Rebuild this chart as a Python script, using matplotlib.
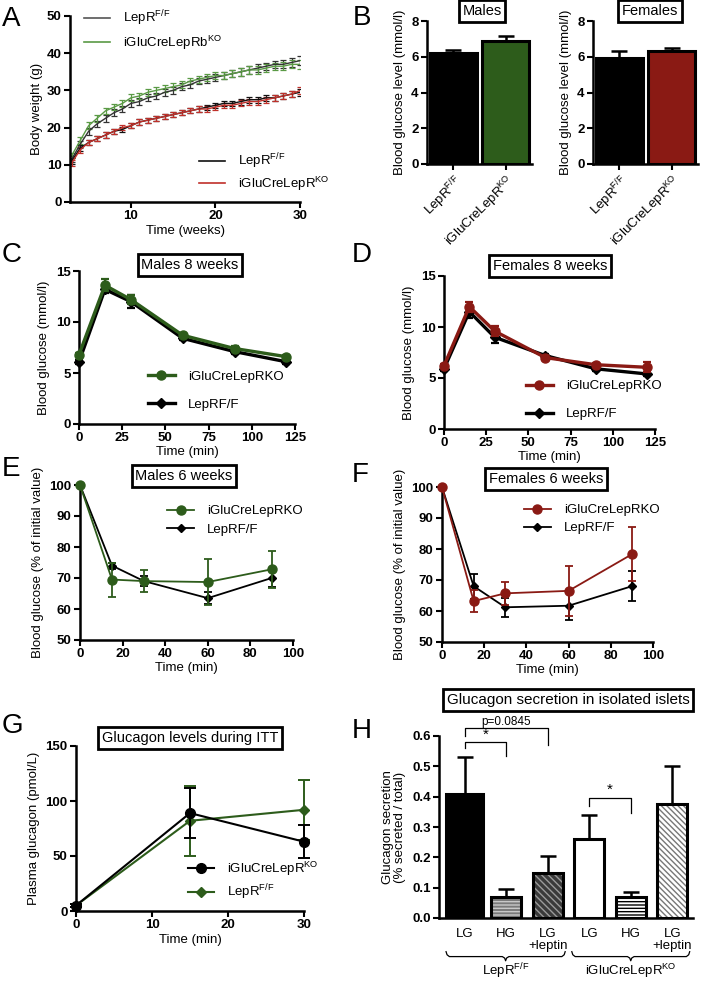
import numpy as np
import matplotlib.pyplot as plt
from matplotlib.lines import Line2D
from matplotlib.transforms import blended_transform_factory

plt.rcParams['font.family'] = ['Liberation Sans', 'DejaVu Sans']
plt.rcParams['mathtext.default'] = 'regular'
plt.rcParams['font.size'] = 9

# ---- data ----
weeks = [3, 4, 5, 6, 7, 8, 9, 10, 11, 12, 13, 14, 15, 16, 17, 18, 19, 20,
         21, 22, 23, 24, 25, 26, 27, 28, 29, 30]
bw_m_ff = [11.5, 15.5, 19.0, 21.0, 22.5, 24.0, 25.0, 26.5, 27.0, 28.0, 28.5, 29.5, 30.0, 31.0,
           31.5, 32.5, 33.0, 33.5, 34.0, 34.5, 35.0, 35.5, 36.0, 36.5, 37.0, 37.0, 37.5, 38.0]
bw_m_ko = [12.5, 16.5, 20.5, 22.5, 24.5, 25.5, 26.5, 28.0, 28.5, 29.5, 30.0, 30.5, 31.0, 31.5,
           32.5, 33.0, 33.5, 34.0, 34.0, 34.5, 35.0, 35.5, 35.5, 36.0, 36.5, 36.5, 37.0, 37.0]
bw_f_ff = [11.0, 14.5, 16.0, 17.0, 18.0, 19.0, 19.5, 20.5, 21.5, 22.0, 22.5, 23.0, 23.5, 24.0,
           24.5, 25.0, 25.5, 26.0, 26.5, 26.5, 27.0, 27.5, 27.5, 28.0, 28.0, 28.5, 29.0, 29.5]
bw_f_ko = [10.5, 14.0, 16.0, 17.0, 18.0, 19.0, 20.0, 20.5, 21.5, 22.0, 22.5, 23.0, 23.5, 24.0,
           24.5, 25.0, 25.0, 25.5, 26.0, 26.0, 26.5, 27.0, 27.0, 27.5, 28.0, 28.5, 29.0, 30.0]
bw_err_m = [0.8, 0.9, 0.9, 0.9, 0.9, 0.9, 0.9, 0.9, 0.9, 0.9, 0.9, 0.9, 0.9, 0.9,
            0.9, 0.9, 0.9, 0.9, 0.9, 1.0, 1.0, 1.0, 1.0, 1.0, 1.0, 1.1, 1.1, 1.3]
bw_err_f = [0.7, 0.7, 0.7, 0.7, 0.7, 0.7, 0.7, 0.7, 0.7, 0.7, 0.7, 0.7, 0.7, 0.7,
            0.7, 0.7, 0.7, 0.7, 0.7, 0.7, 0.8, 0.8, 0.8, 0.8, 0.8, 0.8, 0.8, 0.9]

geno = ['LepR$^{F/F}$', 'iGluCreLepR$^{KO}$']
bg_males = [6.2, 6.9]
bg_males_err = [0.2, 0.25]
bg_females = [5.95, 6.3]
bg_females_err = [0.35, 0.2]

gtt_t = [0, 15, 30, 60, 90, 120]
gtt_m_ko = [6.8, 13.6, 12.2, 8.7, 7.4, 6.6]
gtt_m_ko_err = [0.2, 0.6, 0.4, 0.2, 0.2, 0.2]
gtt_m_ff = [6.1, 13.2, 12.0, 8.4, 7.1, 6.1]
gtt_m_ff_err = [0.2, 0.4, 0.6, 0.2, 0.2, 0.2]
gtt_f_ko = [6.2, 12.0, 9.6, 7.0, 6.3, 6.05]
gtt_f_ko_err = [0.2, 0.5, 0.5, 0.2, 0.2, 0.5]
gtt_f_ff = [5.9, 11.5, 9.0, 7.2, 5.9, 5.4]
gtt_f_ff_err = [0.2, 0.6, 0.6, 0.2, 0.2, 0.2]

itt_t = [0, 15, 30, 60, 90]
itt_m_ko = [100, 69.5, 69.0, 68.7, 72.8]
itt_m_ko_err = [0, 5.5, 3.5, 7.5, 6.0]
itt_m_ff = [100, 74.0, 69.0, 63.5, 70.0]
itt_m_ff_err = [0, 1.0, 1.5, 2.0, 3.0]
itt_f_ko = [100, 63.2, 65.7, 66.5, 78.3]
itt_f_ko_err = [0, 3.5, 3.8, 8.0, 8.7]
itt_f_ff = [100, 68.0, 61.2, 61.7, 68.0]
itt_f_ff_err = [0, 4.0, 3.0, 4.5, 4.8]

glc_t = [0, 15, 30]
glc_ko = [5, 89, 63]
glc_ko_err = [1, 23, 15]
glc_ff = [5, 82, 92]
glc_ff_err = [1, 32, 27]

sec_labels = ['LG', 'HG', 'LG\n+leptin', 'LG', 'HG', 'LG\n+leptin']
sec_vals = [0.41, 0.07, 0.15, 0.26, 0.07, 0.375]
sec_err = [0.12, 0.025, 0.055, 0.08, 0.015, 0.125]

GREEN = '#2d5c1b'
RED = '#8a1a14'
TICK_FS = 9.5

W, H = 705, 982
fig = plt.figure(figsize=(W / 100, H / 100), dpi=100)


def add_ax(l, t, r, b):
    return fig.add_axes([l / W, 1 - b / H, (r - l) / W, (b - t) / H])


def gp(ax, bold=True):
    for s in ['top', 'right']:
        ax.spines[s].set_visible(False)
    for s in ['left', 'bottom']:
        ax.spines[s].set_linewidth(1.8)
    ax.tick_params(width=1.5, length=4, labelsize=TICK_FS, pad=2)
    if bold:
        plt.setp(ax.get_xticklabels() + ax.get_yticklabels(), fontweight='bold')


def title_box(x, y, s, size=10):
    fig.text(x / W, 1 - y / H, s, ha='center', va='center', fontsize=size,
             bbox=dict(boxstyle='square,pad=0.25', fc='white', ec='black', lw=2))


def letter(x, y, s):
    fig.text(x / W, 1 - y / H, s, ha='left', va='top', fontsize=20)


def leg(ax, x, y, handles, labels, **kw):
    return ax.legend(handles, labels, loc='upper left', bbox_to_anchor=(x, y), frameon=False,
                     borderpad=0, borderaxespad=0, handlelength=2.0, handletextpad=1.0,
                     fontsize=9.5, **kw)


def mk(color, marker, ms, lw):
    return Line2D([], [], color=color, marker=marker, ms=ms, lw=lw)


# ---- A ----
ax = add_ax(70, 16, 300, 202)
ekw = dict(capsize=2.5, elinewidth=0.9, capthick=0.9, lw=1.0)
ax.errorbar(weeks, bw_m_ff, yerr=bw_err_m, color='#333333', **ekw)
ax.errorbar(weeks, bw_m_ko, yerr=bw_err_m, color='#5a9a45', **ekw)
ax.errorbar(weeks, bw_f_ff, yerr=bw_err_f, color='#111111', **ekw)
ax.errorbar(weeks, bw_f_ko, yerr=bw_err_f, color='#c0302a', **ekw)
ax.set_xlim(2.8, 30)
ax.set_ylim(0, 50)
ax.set_xticks([10, 20, 30])
ax.set_yticks([0, 10, 20, 30, 40, 50])
ax.set_xlabel('Time (weeks)', fontsize=9.5, labelpad=2)
ax.set_ylabel('Body weight (g)', fontsize=9.5, labelpad=3)
gp(ax)
l1 = leg(ax, 0.06, 1.04, [mk('#555555', None, 0, 1.2), mk('#5a9a45', None, 0, 1.2)],
         ['LepR$^{F/F}$', 'iGluCreLepRb$^{KO}$'], labelspacing=0.4)
ax.add_artist(l1)
leg(ax, 0.56, 0.27, [mk('#111111', None, 0, 1.2), mk('#c0302a', None, 0, 1.2)],
    ['LepR$^{F/F}$', 'iGluCreLepR$^{KO}$'], labelspacing=0.25)
letter(2, 6, 'A')

# ---- B ----
for (l, r), vals, errs, col, ttl, tx in [((427, 532), bg_males, bg_males_err, GREEN, 'Males', 482),
                                         ((593, 698), bg_females, bg_females_err, RED, 'Females', 650)]:
    ax = add_ax(l, 21, r, 164)
    x = np.arange(len(vals))
    ax.bar(x, vals, width=0.9, color=['black', col], edgecolor='black', linewidth=2.2, zorder=2)
    ax.errorbar(x, vals, yerr=[[0, 0], errs], fmt='none', ecolor='black', elinewidth=1.8,
                capsize=6, capthick=1.8, zorder=1)
    ax.set_xlim(-0.5, 1.5)
    ax.set_ylim(0, 8)
    ax.set_yticks([0, 2, 4, 6, 8])
    ax.set_xticks(x)
    ax.set_xticklabels(geno, rotation=45, ha='right', rotation_mode='anchor', fontsize=10)
    ax.set_ylabel('Blood glucose level (mmol/l)', fontsize=9.5, labelpad=4)
    gp(ax, bold=False)
    plt.setp(ax.get_yticklabels(), fontweight='bold')
    title_box(tx, 11, ttl, size=10.5)
letter(353, 5, 'B')

# ---- C & D ----
for (l, t, r, b), ko, koe, ff, ffe, col, ttl, tpos, lx, ly, let in [
        ((79, 271, 295, 424), gtt_m_ko, gtt_m_ko_err, gtt_m_ff, gtt_m_ff_err, GREEN,
         'Males 8 weeks', (190, 265), 0.32, 0.35, (2, 242, 'C')),
        ((444, 276, 655, 429), gtt_f_ko, gtt_f_ko_err, gtt_f_ff, gtt_f_ff_err, RED,
         'Females 8 weeks', (550, 266), 0.39, 0.32, (352, 242, 'D'))]:
    ax = add_ax(l, t, r, b)
    ax.errorbar(gtt_t, ko, yerr=koe, color=col, marker='o', ms=6.5, lw=2.4, elinewidth=1.6,
                capsize=3, capthick=1.6, clip_on=False, zorder=3)
    ax.errorbar(gtt_t, ff, yerr=ffe, color='black', marker='D', ms=5, lw=2.4, elinewidth=1.6,
                capsize=3, capthick=1.6, clip_on=False, zorder=2)
    ax.set_xlim(0, 125)
    ax.set_ylim(0, 15)
    ax.set_xticks([0, 25, 50, 75, 100, 125])
    ax.set_yticks([0, 5, 10, 15])
    ax.set_xlabel('Time (min)', fontsize=9.5, labelpad=1)
    ax.set_ylabel('Blood glucose (mmol/l)', fontsize=9.5, labelpad=4)
    gp(ax)
    leg(ax, lx, ly, [mk(col, 'o', 6.5, 2.4), mk('black', 'D', 5, 2.4)],
        ['iGluCreLepRKO', 'LepRF/F'], labelspacing=1.2)
    title_box(tpos[0], tpos[1], ttl, size=10.5)
    letter(*let)

# ---- E & F ----
for (l, t, r, b), ko, koe, ff, ffe, col, ttl, tpos, lx, ly, let in [
        ((80, 485, 293, 640), itt_m_ko, itt_m_ko_err, itt_m_ff, itt_m_ff_err, GREEN,
         'Males 6 weeks', (184, 476), 0.41, 0.87, (2, 456, 'E')),
        ((442, 487, 653, 642), itt_f_ko, itt_f_ko_err, itt_f_ff, itt_f_ff_err, RED,
         'Females 6 weeks', (546, 479), 0.39, 0.89, (352, 462, 'F'))]:
    ax = add_ax(l, t, r, b)
    ax.errorbar(itt_t, ko, yerr=koe, color=col, marker='o', ms=6.5, lw=1.3, elinewidth=1.3,
                capsize=3, capthick=1.3, clip_on=False, zorder=3)
    ax.errorbar(itt_t, ff, yerr=ffe, color='black', marker='D', ms=4.5, lw=1.3, elinewidth=1.3,
                capsize=3, capthick=1.3, clip_on=False, zorder=2)
    ax.set_xlim(0, 100)
    ax.set_ylim(50, 100)
    ax.set_xticks([0, 20, 40, 60, 80, 100])
    ax.set_yticks([50, 60, 70, 80, 90, 100])
    ax.set_xlabel('Time (min)', fontsize=9.5, labelpad=1)
    ax.set_ylabel('Blood glucose (% of initial value)', fontsize=9.5, labelpad=4)
    gp(ax)
    leg(ax, lx, ly, [mk(col, 'o', 6.5, 1.3), mk('black', 'D', 4.5, 1.3)],
        ['iGluCreLepRKO', 'LepRF/F'], labelspacing=0.45)
    title_box(tpos[0], tpos[1], ttl, size=10.5)
    letter(*let)

# ---- G ----
ax = add_ax(76, 746, 304, 911)
ax.errorbar(glc_t, glc_ko, yerr=glc_ko_err, color='black', marker='o', ms=7, lw=1.5,
            elinewidth=1.4, capsize=4, capthick=1.4, clip_on=False, zorder=3)
ax.errorbar(glc_t, glc_ff, yerr=glc_ff_err, color=GREEN, marker='D', ms=5, lw=1.5,
            elinewidth=1.4, capsize=4, capthick=1.4, clip_on=False, zorder=2)
ax.set_xlim(0, 30)
ax.set_ylim(0, 150)
ax.set_xticks([0, 10, 20, 30])
ax.set_yticks([0, 50, 100, 150])
ax.set_xlabel('Time (min)', fontsize=9.5, labelpad=2)
ax.set_ylabel('Plasma glucagon (pmol/L)', fontsize=9.5, labelpad=4)
gp(ax)
leg(ax, 0.49, 0.31, [mk('black', 'o', 7, 1.5), mk(GREEN, 'D', 5, 1.5)],
    ['iGluCreLepR$^{KO}$', 'LepR$^{F/F}$'], labelspacing=0.35)
title_box(190, 738, 'Glucagon levels during ITT', size=10.5)
letter(2, 713, 'G')

# ---- H ----
ax = add_ax(439, 736, 693, 918)
x = np.arange(len(sec_vals))
fills = ['black', '#7a7a7a', '#3a3a3a', 'white', 'white', 'white']
hcols = ['black', '#c8c8c8', '#9a9a9a', 'white', 'black', '#777777']
hatches = [None, '-----', '\\\\\\\\\\', None, '-----', '\\\\\\\\\\\\']
widths = [0.9, 0.72, 0.72, 0.72, 0.72, 0.72]
for i in range(len(sec_vals)):
    ax.bar(x[i], sec_vals[i], width=widths[i], color=fills[i], edgecolor=hcols[i],
           hatch=hatches[i], linewidth=0, zorder=2)
    ax.bar(x[i], sec_vals[i], width=widths[i], fill=False, edgecolor='black', linewidth=2.2, zorder=3)
ax.errorbar(x, sec_vals, yerr=[np.zeros(len(sec_err)), sec_err], fmt='none', ecolor='black',
            elinewidth=1.8, capsize=6, capthick=1.8, zorder=1)
ax.set_xlim(-0.62, 5.5)
ax.set_ylim(0, 0.6)
ax.set_yticks([0.0, 0.1, 0.2, 0.3, 0.4, 0.5, 0.6])
ax.set_yticklabels(['0.0', '0.1', '0.2', '0.3', '0.4', '0.5', '0.6'])
ax.set_xticks(x)
ax.set_xticklabels(sec_labels, fontsize=9.5, linespacing=1.0)
ax.set_ylabel('Glucagon secretion\n(% secreted / total)', fontsize=9.5, labelpad=4, linespacing=1.0)
gp(ax, bold=False)
plt.setp(ax.get_yticklabels(), fontweight='bold')
ax.tick_params(axis='x', length=0, pad=7)


def sig(x0, x1, y, d0, d1, txt, fs):
    ax.plot([x0, x0, x1, x1], [y - d0, y, y, y - d1], color='black', lw=0.9, clip_on=False)
    ax.text((x0 + x1) / 2, y + 0.002, txt, ha='center', va='bottom', fontsize=fs)


sig(0, 2, 0.625, 0.025, 0.055, 'p=0.0845', 8.5)
sig(0, 1, 0.58, 0.02, 0.045, '*', 11)
sig(3, 4, 0.396, 0.026, 0.05, '*', 11)

tr = blended_transform_factory(ax.transData, ax.transAxes)


def brace(x0, x1, label):
    xc = (x0 + x1) / 2
    yt, ym, yb = -0.185, -0.212, -0.235
    d = 0.08
    ax.plot([x0, x0 + d * 0.3, x0 + d, xc - d, xc - d * 0.3, xc, xc + d * 0.3, xc + d, x1 - d, x1 - d * 0.3, x1],
            [yt, ym + 0.01, ym, ym, ym - 0.008, yb, ym - 0.008, ym, ym, ym + 0.01, yt],
            color='black', lw=0.9, transform=tr, clip_on=False)
    ax.text(xc, yb - 0.005, label, ha='center', va='top', fontsize=9.5, transform=tr)


brace(-0.45, 2.42, 'LepR$^{F/F}$')
brace(2.58, 5.42, 'iGluCreLepR$^{KO}$')
title_box(568, 700, 'Glucagon secretion in isolated islets', size=11)
letter(352, 718, 'H')

fig.savefig('out.png', dpi=100)
